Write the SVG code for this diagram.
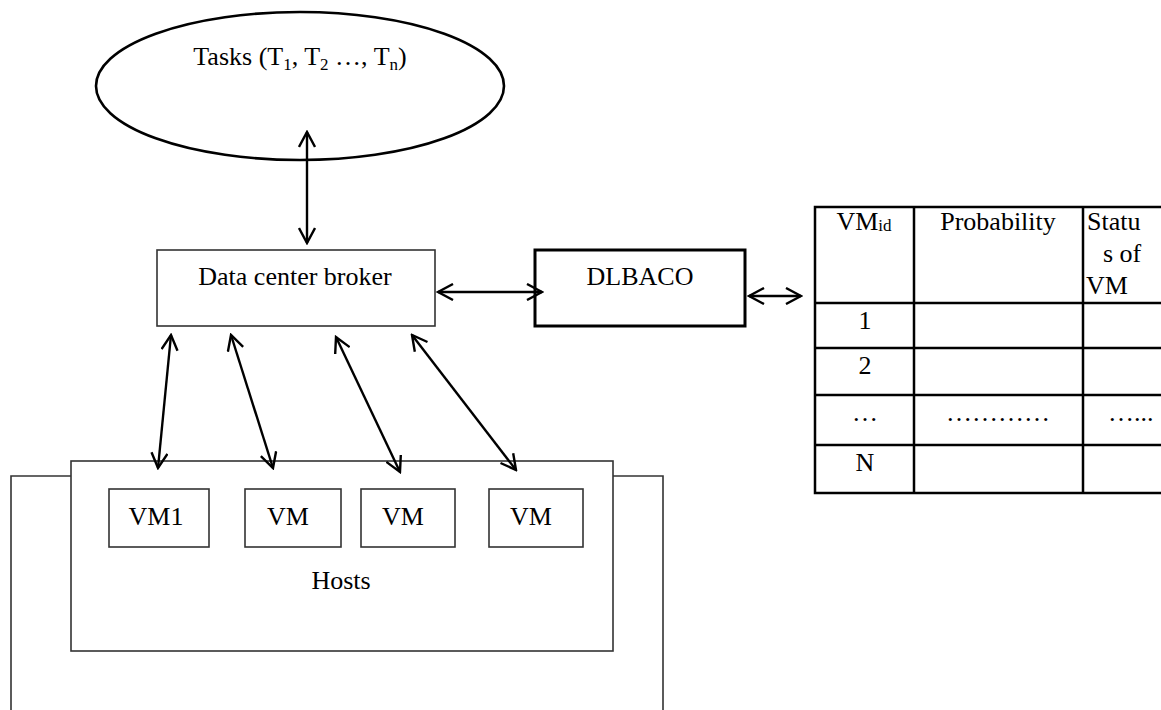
<svg xmlns="http://www.w3.org/2000/svg" width="1161" height="710" viewBox="0 0 1161 710">
<defs>
<marker id="ah" viewBox="0 0 18 18" refX="16" refY="9" markerWidth="18" markerHeight="18" markerUnits="userSpaceOnUse" orient="auto-start-reverse">
<path d="M1,1 L16,9 L1,17" fill="none" stroke="#000" stroke-width="2.4"/>
</marker>
</defs>
<style>
text{font-family:"Liberation Serif","Times New Roman",serif;font-size:26px;fill:#000}
.c{text-anchor:middle}
.box{fill:#fff;stroke:#333;stroke-width:1.6}
.thick{fill:#fff;stroke:#000;stroke-width:3}
.tl{stroke:#000;stroke-width:2.5;fill:none}
.con line{stroke:#000;stroke-width:2.4;marker-start:url(#ah);marker-end:url(#ah)}
.sub{font-size:17px}
</style>
<rect width="1161" height="710" fill="#fff"/>

<g id="tasks">
<ellipse cx="300" cy="86" rx="204" ry="74" fill="#fff" stroke="#000" stroke-width="2.6"/>
<text class="c" x="300" y="65">Tasks (T<tspan class="sub" dy="5">1</tspan><tspan dy="-5">, T</tspan><tspan class="sub" dy="5">2</tspan><tspan dy="-5"> …, T</tspan><tspan class="sub" dy="5">n</tspan><tspan dy="-5">)</tspan></text>
</g>

<g id="broker">
<rect class="box" x="157" y="250" width="278" height="76"/>
<text class="c" x="295" y="285">Data center broker</text>
</g>

<g id="dlbaco">
<rect class="thick" x="535" y="250" width="210" height="76"/>
<text class="c" x="640" y="285">DLBACO</text>
</g>

<g id="datacenter">
<path d="M11,715 L11,476 L663,476 L663,715" fill="none" stroke="#333" stroke-width="1.6"/>
</g>

<g id="hosts">
<rect class="box" x="71" y="461" width="542" height="190"/>
<text class="c" x="341" y="589">Hosts</text>
</g>

<g id="vm1">
<rect class="box" x="109" y="489" width="100" height="58"/>
<text class="c" x="156" y="525">VM1</text>
</g>
<g id="vm2">
<rect class="box" x="245" y="489" width="96" height="58"/>
<text class="c" x="288" y="525">VM</text>
</g>
<g id="vm3">
<rect class="box" x="361" y="489" width="94" height="58"/>
<text class="c" x="403" y="525">VM</text>
</g>
<g id="vm4">
<rect class="box" x="489" y="489" width="94" height="58"/>
<text class="c" x="531" y="525">VM</text>
</g>

<g id="table">
<path class="tl" d="M1165,207 L815,207 L815,493 L1165,493"/>
<path class="tl" d="M815,303 L1165,303 M815,348 L1165,348 M815,395 L1165,395 M815,445 L1165,445 M914,207 L914,493 M1083,207 L1083,493"/>
<text class="c" x="864" y="230">VM<tspan class="sub" dy="1">id</tspan></text>
<text class="c" x="998" y="230">Probability</text>
<text x="1087" y="230">Statu</text>
<text x="1103" y="262">s of</text>
<text x="1086" y="294">VM</text>
<text class="c" x="865" y="329">1</text>
<text class="c" x="865" y="374">2</text>
<text class="c" x="865" y="421">…</text>
<text class="c" x="998" y="421">…………</text>
<text x="1108" y="421">…...</text>
<text class="c" x="865" y="471">N</text>
</g>

<g id="connectors" class="con">
<line x1="307" y1="132" x2="307" y2="243"/>
<line x1="438" y1="292" x2="542" y2="292"/>
<line x1="749" y1="296" x2="801" y2="296"/>
<line x1="171" y1="335" x2="158" y2="468"/>
<line x1="231" y1="335" x2="273" y2="468"/>
<line x1="336" y1="337" x2="400" y2="472"/>
<line x1="412" y1="335" x2="516" y2="470"/>
</g>
</svg>
